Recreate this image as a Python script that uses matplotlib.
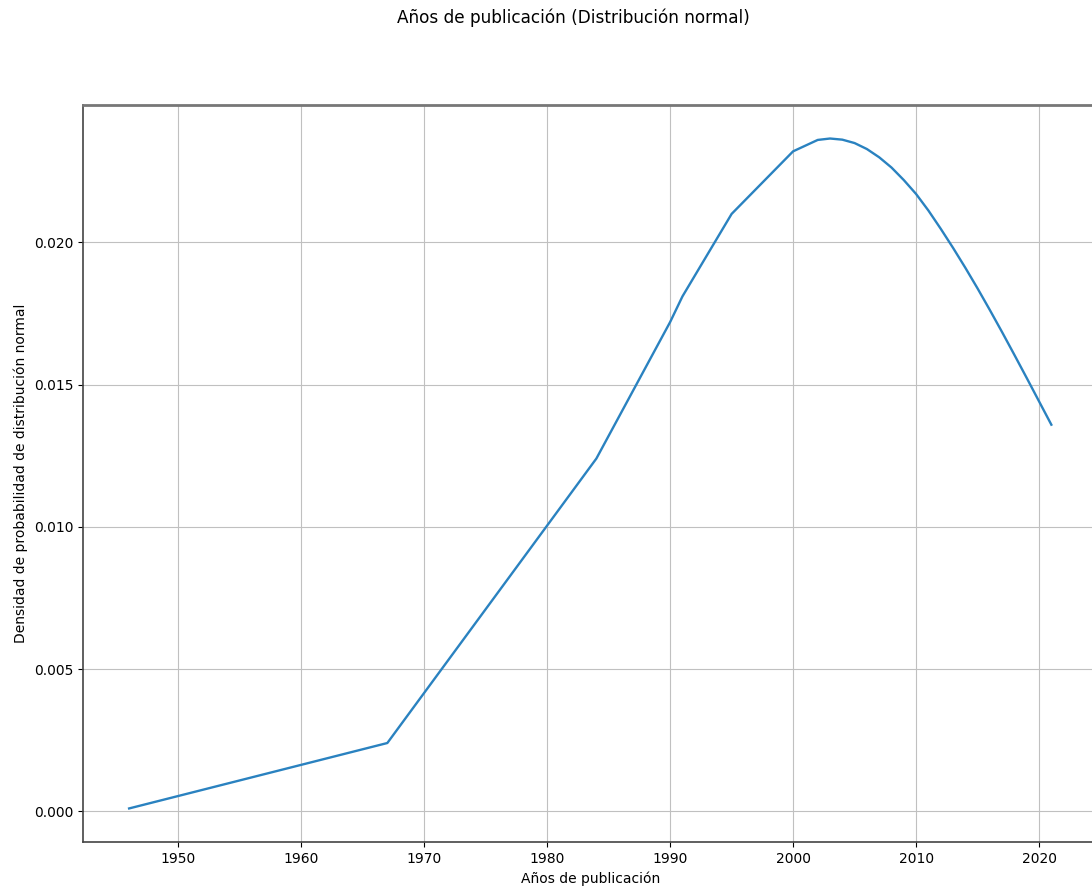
import matplotlib.pyplot as plt

# values
years = [1946, 1967, 1984, 1989, 1990, 1991, 1995, 2000, 2002, 2003,
         2004, 2005, 2006, 2007, 2008, 2009, 2010, 2011, 2012, 2013,
         2014, 2015, 2016, 2017, 2018, 2019, 2020, 2021]
density = [0.0001, 0.0024, 0.0124, 0.0164, 0.0172, 0.0181, 0.0210, 0.0232, 0.0236, 0.02365,
           0.02361, 0.02349, 0.02328, 0.02299, 0.02263, 0.02219, 0.02170, 0.02112, 0.02048, 0.01981,
           0.01911, 0.01838, 0.01762, 0.01684, 0.01604, 0.01523, 0.01441, 0.01359]

title = 'Años de publicación (Distribución normal)'
xlabel = 'Años de publicación'
ylabel = 'Densidad de probabilidad de distribución normal'

fig = plt.figure(figsize=(10.92, 8.9), dpi=100)
# the reference is cropped on the right, so the axes run slightly past the edge
ax = fig.add_axes([0.076, 0.054, 0.929, 0.828])
ax.plot(years, density, color='#2a82c0', linewidth=1.7)

fig.suptitle(title, fontsize=12.2, x=0.525, y=0.99)
ax.set_xlabel(xlabel)
ax.set_ylabel(ylabel)
ax.grid(True, color='#c0c0c0')

for side in ['left', 'bottom', 'right']:
    ax.spines[side].set_color('#444444')
    ax.spines[side].set_linewidth(1.2)
ax.spines['top'].set_color('#777777')
ax.spines['top'].set_linewidth(2)

plt.savefig('out.png', dpi=100)
